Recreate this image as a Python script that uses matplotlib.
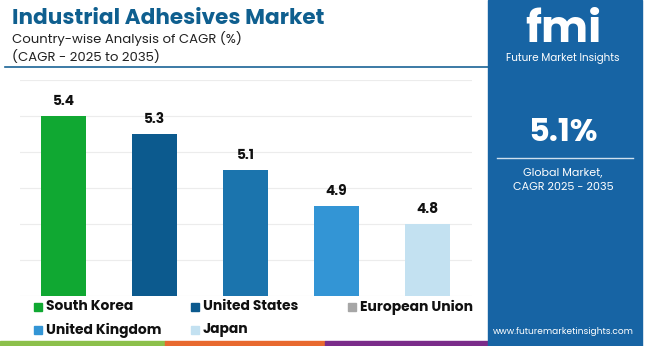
import matplotlib
matplotlib.use("Agg")
import matplotlib.pyplot as plt
from matplotlib.patches import Rectangle
from matplotlib.lines import Line2D

countries = ["South Korea", "United States", "European Union", "United Kingdom", "Japan"]
cagr = [5.4, 5.3, 5.1, 4.9, 4.8]
bar_colors = ["#10a832", "#0c5a8e", "#1b74ad", "#3395d5", "#c3e1f1"]
legend_colors = ["#10a832", "#0c5a8e", "#a6a6a6", "#3395d5", "#c3e1f1"]
global_cagr = "5.1%"

W, H = 650, 346
plt.rcParams['font.family'] = ['Poppins', 'DejaVu Sans']
fig = plt.figure(figsize=(W / 100, H / 100), dpi=100)
fig.patch.set_facecolor("white")


def px(x, y):
    return x / W, 1 - y / H


def ax_rect(x0, y0, x1, y1):
    return [x0 / W, 1 - y1 / H, (x1 - x0) / W, (y1 - y0) / H]


# titles
fig.text(*px(12, 19), "Industrial Adhesives Market", fontsize=15.5, fontweight="bold",
         color="#0f5f8f", va="center", ha="left")
fig.text(*px(12, 38), "Country-wise Analysis of CAGR (%)", fontsize=9.5,
         color="#222222", va="center", ha="left")
fig.text(*px(12, 57), "(CAGR - 2025 to 2035)", fontsize=9.5,
         color="#222222", va="center", ha="left")
fig.add_artist(Line2D([5 / W, 488 / W], [1 - 67 / H, 1 - 67 / H], color="#1a6496", lw=1.2))

# bar chart
ax = fig.add_axes(ax_rect(20, 80, 472, 296))
x = list(range(len(countries)))
bars = ax.bar(x, cagr, width=0.5, color=bar_colors, zorder=2)
ax.set_ylim(4.4, 5.6)
ax.set_xlim(-0.48, 4.49)
ax.set_yticks([4.4, 4.6, 4.8, 5.0, 5.2, 5.4, 5.6])
ax.yaxis.grid(True, color="#ececec", lw=0.8, zorder=0)
ax.set_yticklabels([])
ax.tick_params(left=False, bottom=False, labelbottom=False)
for s in ax.spines.values():
    s.set_visible(False)
for xi, v in zip(x, cagr):
    ax.text(xi, v + 0.04, f"{v}", ha="center", va="bottom", fontsize=10,
            fontweight="bold", color="#111111")

# legend
legend_pos = [(37, 307), (194, 307), (351, 307), (37, 330), (194, 330)]
for (lx, ly), name, col in zip(legend_pos, countries, legend_colors):
    fig.add_artist(Rectangle((lx / W - 3.5 / W, 1 - ly / H - 4 / H), 8 / W, 8 / H,
                             color=col, transform=fig.transFigure))
    fig.text(*px(lx + 9, ly), name, fontsize=10, fontweight="bold",
             color="#111111", va="center", ha="left")

# bottom stripes
for x0, x1, c in [(0, 165, "#8cc04b"), (165, 325, "#e8692f"), (325, 488, "#7a2c8a")]:
    fig.add_artist(Rectangle((x0 / W, 0), (x1 - x0) / W, 5 / H, color=c,
                             transform=fig.transFigure))

# right panel
fig.add_artist(Rectangle((488 / W, 0), (642 - 488) / W, 1, color="#1764a4",
                         transform=fig.transFigure))
fig.text(*px(563, 32), "fmi", fontsize=32, fontweight="bold", color="white",
         va="center", ha="center")
fig.text(*px(563, 59), "Future Market Insights", fontsize=7.5, color="white",
         va="center", ha="center")
fig.text(*px(563, 133), global_cagr, fontsize=23, fontweight="bold", color="white",
         va="center", ha="center")
fig.add_artist(Line2D([497 / W, 633 / W], [1 - 158 / H, 1 - 158 / H], color="#cfe0ee", lw=1))
fig.text(*px(563, 173), "Global Market,", fontsize=8, color="white", va="center", ha="center")
fig.text(*px(563, 187), "CAGR 2025 - 2035", fontsize=8, color="white", va="center", ha="center")
fig.text(*px(563, 331), "www.futuremarketinsights.com", fontsize=6.5, color="white",
         va="center", ha="center")

fig.savefig("out.png", dpi=100)
